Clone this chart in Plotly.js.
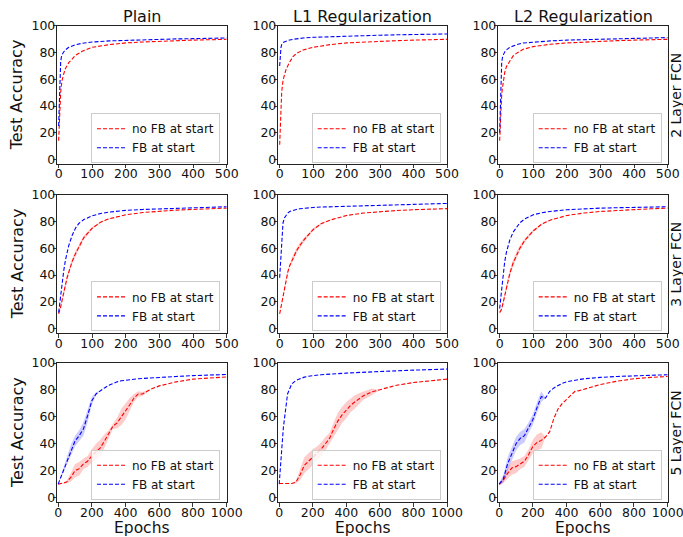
<!DOCTYPE html>
<html>
<head>
<meta charset="utf-8">
<script src="https://cdn.plot.ly/plotly-3.0.1.min.js"></script>
<style>html,body{margin:0;padding:0;background:#fff;}#chart{width:683px;height:537px;}</style>
</head>
<body>
<div id="chart"></div>
<script>
// ---------- labels ----------
const colTitles = ["Plain", "L1 Regularization", "L2 Regularization"];
const rowTitles = ["2 Layer FCN", "3 Layer FCN", "5 Layer FCN"];
const seriesNames = ["no FB at start", "FB at start"];
const yLabel = "Test Accuracy";
const xLabel = "Epochs";
const yTicks = [0, 20, 40, 60, 80, 100];
const xTicksShort = [0, 100, 200, 300, 400, 500];
const xTicksLong = [0, 200, 400, 600, 800, 1000];

// ---------- 2 Layer FCN ----------
const epochs2 = [0, 2, 4, 6, 8, 10, 15, 20, 30, 40, 50, 70, 100, 150, 200, 250, 300, 350, 400, 450, 500];
const fcn2_plain_noFB = [14, 30, 42, 50, 55, 59, 64, 68, 72.5, 75.5, 78, 81, 84, 86, 87.3, 88, 88.6, 89, 89.4, 89.7, 90];
const fcn2_plain_FB   = [25, 50, 65, 73, 76.5, 78.5, 80.5, 82, 84, 85.3, 86, 87, 88, 88.8, 89.3, 89.7, 90, 90.3, 90.5, 90.8, 91];
const fcn2_l1_noFB    = [11, 28, 42, 50, 55, 59, 64, 68, 73, 77, 79.5, 82, 84, 86, 87.3, 88, 88.6, 89, 89.4, 89.7, 90];
const fcn2_l1_FB      = [70, 80, 84, 86, 87, 87.5, 88.2, 88.8, 89.5, 90, 90.4, 91, 91.5, 92, 92.4, 92.8, 93.1, 93.4, 93.6, 93.8, 94];
const fcn2_l2_noFB    = [14, 28, 40, 48, 53, 57, 65, 69.5, 74, 77.5, 79.5, 82.5, 84.5, 86.3, 87.3, 88, 88.6, 89, 89.4, 89.7, 90];
const fcn2_l2_FB      = [20, 45, 62, 72, 76, 78, 80.5, 82, 84, 85.3, 86, 87.2, 88, 88.8, 89.4, 89.8, 90.1, 90.4, 90.7, 91, 91.3];

// ---------- 3 Layer FCN ----------
const epochs3 = [0, 5, 10, 15, 20, 25, 30, 40, 50, 60, 75, 100, 125, 150, 200, 250, 300, 350, 400, 450, 500];
const fcn3_plain_noFB   = [11, 15, 21, 27, 33, 38, 42, 50, 56, 61, 68, 75, 79.5, 82, 85, 86.7, 87.8, 88.5, 89, 89.5, 90];
const fcn3_plain_noFB_sd = [0.5, 1, 1.5, 2, 2, 2, 2, 2, 2, 2, 1.5, 1, 0.5, 0.3, 0, 0, 0, 0, 0, 0, 0];
const fcn3_plain_FB     = [12, 24, 34, 43, 51, 57, 62, 69.5, 75, 78.5, 81.5, 84.3, 86, 87, 88.3, 89, 89.5, 90, 90.3, 90.7, 91];
const fcn3_l1_noFB      = [11, 18, 25, 32, 38, 43, 47, 53, 58, 62, 67, 74, 78.5, 81, 84.5, 86.3, 87.5, 88.2, 88.8, 89.2, 89.6];
const fcn3_l1_noFB_sd   = [0.5, 1, 1.5, 1.5, 1.5, 1.5, 1.5, 2, 2, 2, 1.5, 1, 0.5, 0.3, 0, 0, 0, 0, 0, 0, 0];
const fcn3_l1_FB        = [38, 62, 79, 83, 85, 86.5, 87.5, 88.5, 89, 89.5, 90, 90.5, 90.8, 91, 91.5, 92, 92.4, 92.7, 93, 93.3, 93.5];
const fcn3_l2_noFB      = [12, 14, 19, 25, 31, 36, 41, 49, 55, 60, 66, 73, 78, 81, 84.5, 86.3, 87.5, 88.3, 89, 89.5, 90];
const fcn3_l2_noFB_sd   = [1, 1.5, 2, 2.5, 2.5, 2.5, 2.5, 2.5, 2.5, 2, 1.5, 1, 0.5, 0.3, 0, 0, 0, 0, 0, 0, 0];
const fcn3_l2_FB        = [15, 28, 40, 50, 57, 62, 66, 72, 76, 79, 82, 85, 86.5, 87.5, 88.8, 89.5, 90, 90.3, 90.6, 90.8, 91];

// ---------- 5 Layer FCN ----------
const epochs5 = [0, 25, 50, 75, 100, 125, 150, 175, 200, 225, 250, 275, 300, 325, 350, 375, 400, 425, 450, 475, 500, 550, 600, 700, 800, 900, 1000];
const fcn5_plain_noFB    = [10, 10.5, 11.5, 15, 20, 21.5, 25, 27, 31, 34, 37, 42, 47, 53, 55.5, 60, 64, 69, 74, 77, 77, 80.5, 83, 86, 88, 89, 89.7];
const fcn5_plain_noFB_sd = [0, 0, 1, 3, 5, 5, 4, 4, 5, 6, 6, 5, 3, 2, 4, 6, 6, 5, 3, 2, 1.5, 0, 0, 0, 0, 0, 0];
const fcn5_plain_FB      = [10, 18, 27, 35, 42, 46, 51, 61, 72, 77, 79.5, 81.5, 83.5, 85, 86, 86.8, 87.3, 87.7, 88, 88.3, 88.5, 89, 89.5, 90, 90.6, 91, 91.5];
const fcn5_plain_FB_sd   = [0, 1.5, 3, 4, 4, 4, 5, 5, 3, 1, 0, 0, 0, 0, 0, 0, 0, 0, 0, 0, 0, 0, 0, 0, 0, 0, 0];
const fcn5_l1_noFB       = [10.5, 10.5, 10.5, 10.5, 11.5, 17, 24, 27, 30, 33, 36, 40, 44, 51, 57, 61.5, 65, 68.5, 71, 73.5, 75.5, 78.5, 80, 83.5, 85.5, 87, 88];
const fcn5_l1_noFB_sd    = [0, 0, 0, 0, 1, 4, 6, 6, 6, 5, 5, 5, 4, 5, 6, 6, 6, 5, 5, 4, 3, 2.5, 0, 0, 0, 0, 0];
const fcn5_l1_FB         = [10, 52, 77, 84.5, 87, 88.5, 89.5, 90.2, 90.7, 91, 91.3, 91.5, 91.8, 92, 92.2, 92.4, 92.5, 92.7, 92.8, 92.9, 93, 93.3, 93.6, 94.2, 94.7, 95.1, 95.5];
const fcn5_l2_noFB       = [10, 13, 18, 22, 23, 25, 27, 32, 38, 41, 42.5, 45, 49, 59, 66, 70, 73, 76, 79, 79.5, 80.5, 82.5, 84, 86.5, 88.3, 89.3, 90];
const fcn5_l2_noFB_sd    = [1, 2, 4, 5, 5, 4, 4, 4, 5, 6, 6, 0, 0, 0, 0, 0, 0, 0, 0, 0, 0, 0, 0, 0, 0, 0, 0];
const fcn5_l2_FB         = [10, 14, 25, 33, 40, 44, 46, 52, 58, 67, 75, 74, 79, 81.5, 83.5, 85, 86, 86.7, 87.3, 87.8, 88.2, 88.8, 89.3, 90, 90.5, 91, 91.3];
const fcn5_l2_FB_sd      = [1, 3, 5, 5, 5, 5, 5, 4, 4, 4, 4, 0, 0, 0, 0, 0, 0, 0, 0, 0, 0, 0, 0, 0, 0, 0, 0];

// ---------- panel table built from the arrays ----------
const panels = [
  {ep: epochs2, red: fcn2_plain_noFB, blue: fcn2_plain_FB},
  {ep: epochs2, red: fcn2_l1_noFB, blue: fcn2_l1_FB},
  {ep: epochs2, red: fcn2_l2_noFB, blue: fcn2_l2_FB},
  {ep: epochs3, red: fcn3_plain_noFB, redSd: fcn3_plain_noFB_sd, blue: fcn3_plain_FB},
  {ep: epochs3, red: fcn3_l1_noFB, redSd: fcn3_l1_noFB_sd, blue: fcn3_l1_FB},
  {ep: epochs3, red: fcn3_l2_noFB, redSd: fcn3_l2_noFB_sd, blue: fcn3_l2_FB},
  {ep: epochs5, red: fcn5_plain_noFB, redSd: fcn5_plain_noFB_sd, blue: fcn5_plain_FB, blueSd: fcn5_plain_FB_sd},
  {ep: epochs5, red: fcn5_l1_noFB, redSd: fcn5_l1_noFB_sd, blue: fcn5_l1_FB},
  {ep: epochs5, red: fcn5_l2_noFB, redSd: fcn5_l2_noFB_sd, blue: fcn5_l2_FB, blueSd: fcn5_l2_FB_sd}
];

const RED = "#ff0000", BLUE = "#0000ff";
const RED_FILL = "rgba(255,0,0,0.2)", BLUE_FILL = "rgba(0,0,255,0.2)";
const FONT = "DejaVu Sans, Verdana, sans-serif";

// layout geometry (pixel-derived fractions)
const xDom = [[0.0839, 0.3319], [0.4075, 0.6545], [0.7296, 0.9776]];
const yDom = [[0.6946, 0.9516], [0.3793, 0.6374], [0.0646, 0.3240]];
const legX = [0.3221, 0.6452, 0.9688];
const legY = [0.6960, 0.3830, 0.0694];

const traces = [];
const layout = {
  width: 683, height: 537,
  margin: {l: 0, r: 0, t: 0, b: 0},
  paper_bgcolor: "#fff", plot_bgcolor: "#fff",
  font: {family: FONT, size: 12.5, color: "#111"},
  annotations: []
};

function bandTraces(ep, y, sd, fill, xa, ya) {
  const lo = y.map((v, i) => v - sd[i]);
  const hi = y.map((v, i) => v + sd[i]);
  traces.push({x: ep, y: lo, xaxis: xa, yaxis: ya, mode: "lines", line: {width: 0, color: fill},
               showlegend: false, hoverinfo: "skip"});
  traces.push({x: ep, y: hi, xaxis: xa, yaxis: ya, mode: "lines", line: {width: 0, color: fill},
               fill: "tonexty", fillcolor: fill, showlegend: false, hoverinfo: "skip"});
}

panels.forEach((p, k) => {
  const r = Math.floor(k / 3), c = k % 3;
  const n = k + 1;
  const xa = n === 1 ? "x" : "x" + n;
  const ya = n === 1 ? "y" : "y" + n;
  const lg = n === 1 ? "legend" : "legend" + n;
  if (p.redSd) bandTraces(p.ep, p.red, p.redSd, RED_FILL, xa, ya);
  if (p.blueSd) bandTraces(p.ep, p.blue, p.blueSd, BLUE_FILL, xa, ya);
  traces.push({x: p.ep, y: p.red, xaxis: xa, yaxis: ya, mode: "lines", name: seriesNames[0],
               legend: lg, line: {color: RED, width: 1.1, dash: "4px,2px"}});
  traces.push({x: p.ep, y: p.blue, xaxis: xa, yaxis: ya, mode: "lines", name: seriesNames[1],
               legend: lg, line: {color: BLUE, width: 1.1, dash: "4px,2px"}});

  const long = r === 2;
  const axisCommon = {
    showline: true, mirror: true, linecolor: "#222", linewidth: 1,
    ticks: "outside", ticklen: 3.5, tickwidth: 0.9, tickcolor: "#222",
    showgrid: false, zeroline: false, fixedrange: true,
    ticklabeloverflow: "allow", ticklabelstandoff: -5,
    tickfont: {family: FONT, size: 12.5, color: "#111"}
  };
  layout["xaxis" + (n === 1 ? "" : n)] = Object.assign({}, axisCommon, {
    domain: xDom[c], anchor: ya,
    range: long ? [-5, 1000] : [-4, 500],
    tickmode: "array", tickvals: long ? xTicksLong : xTicksShort
  });
  layout["yaxis" + (n === 1 ? "" : n)] = Object.assign({}, axisCommon, {
    domain: yDom[r], anchor: xa,
    range: [-3.5, 100],
    tickmode: "array", tickvals: yTicks
  });
  layout[lg] = {
    x: legX[c], y: legY[r], xanchor: "right", yanchor: "bottom",
    bgcolor: "rgba(255,255,255,0.8)", bordercolor: "#cccccc", borderwidth: 1,
    font: {family: FONT, size: 12, color: "#111"},
    itemwidth: 30, tracegroupgap: 0, traceorder: "normal"
  };
});

// column titles
colTitles.forEach((t, c) => {
  layout.annotations.push({text: t, xref: "paper", yref: "paper",
    x: (xDom[c][0] + xDom[c][1]) / 2, y: 0.9702, xanchor: "center", yanchor: "middle",
    showarrow: false, font: {family: FONT, size: 16, color: "#111"}});
});
// row titles (right side) and y labels
rowTitles.forEach((t, r) => {
  layout.annotations.push({text: t, xref: "paper", yref: "paper",
    x: 0.9895, y: (yDom[r][0] + yDom[r][1]) / 2, xanchor: "center", yanchor: "middle",
    textangle: -90, showarrow: false, font: {family: FONT, size: 14, color: "#111"}});
  layout.annotations.push({text: yLabel, xref: "paper", yref: "paper",
    x: 0.0253, y: (yDom[r][0] + yDom[r][1]) / 2, xanchor: "center", yanchor: "middle",
    textangle: -90, showarrow: false, font: {family: FONT, size: 16, color: "#111"}});
});
// x labels
xDom.forEach((d) => {
  layout.annotations.push({text: xLabel, xref: "paper", yref: "paper",
    x: (d[0] + d[1]) / 2, y: 0.0175, xanchor: "center", yanchor: "middle", borderpad: 0,
    showarrow: false, font: {family: FONT, size: 15.5, color: "#111"}});
});

Plotly.newPlot("chart", traces, layout, {displayModeBar: false, staticPlot: true});
</script>
</body>
</html>
